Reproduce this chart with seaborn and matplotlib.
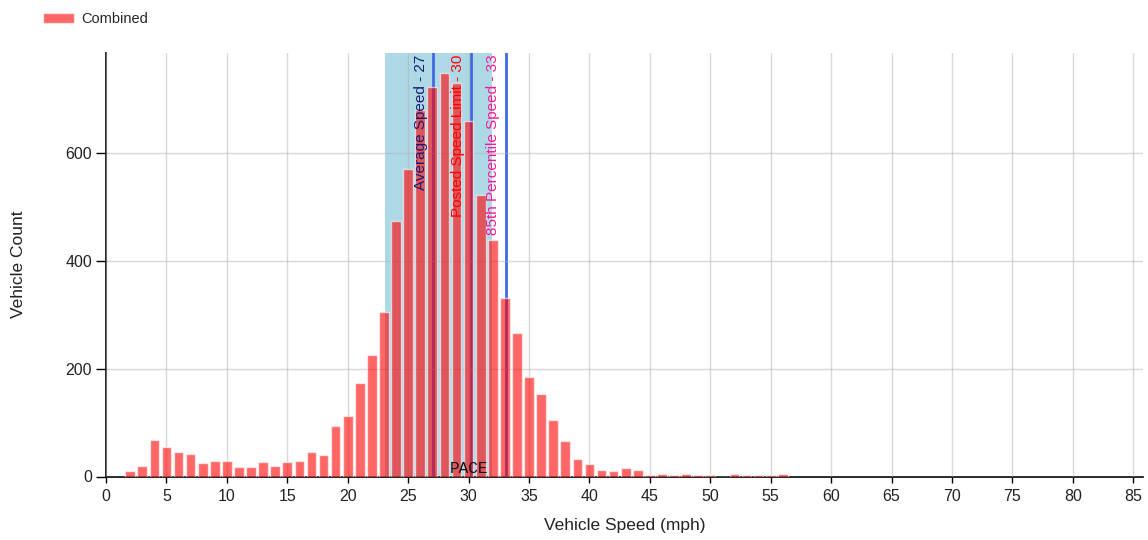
import pandas as pd
import numpy as np
import matplotlib
matplotlib.use("Agg")
import matplotlib.pyplot as plt
import seaborn as sns

# speed histogram (mph -> vehicle count)
speeds = list(range(2, 57))
counts = [10, 20, 67, 54, 46, 41, 25, 29, 29, 18,
          18, 26, 20, 26, 29, 46, 39, 93, 112, 174,
          225, 306, 475, 570, 680, 723, 749, 730, 660, 523,
          439, 332, 266, 184, 153, 105, 66, 33, 23, 12,
          10, 15, 12, 3, 5, 2, 5, 3, 3, 0,
          5, 3, 3, 3, 5]

# reference lines
line_values = [27.07, 30.18, 33.09]
line_labels = ["Average Speed - 27", "Posted Speed Limit - 30", "85th Percentile Speed - 33"]
line_text_colors = ["midnightblue", "red", "deeppink"]

# pace band
pace_lo, pace_hi = 23.1, 31.95

x_ticks = list(range(0, 90, 5))
y_ticks = [0, 200, 400, 600]

sns.set_style("white")
plt.rcParams["font.family"] = ["Liberation Sans", "DejaVu Sans"]

df = pd.DataFrame({"speed": speeds, "count": counts})

fig, ax = plt.subplots(figsize=(11.48, 5.40), dpi=100)
fig.subplots_adjust(left=106 / 1148, right=1143 / 1148, bottom=1 - 476.5 / 540, top=1 - 53 / 540)

ax.axvspan(pace_lo, pace_hi, color="lightblue", lw=0, zorder=1)
for v in line_values:
    ax.axvline(v, color="royalblue", lw=2, zorder=2)

sns.barplot(data=df, x="speed", y="count", native_scale=True, width=0.8,
            color="red", alpha=0.6, saturation=1, edgecolor="white",
            linewidth=1, errorbar=None, label="Combined", ax=ax, zorder=3)

for v, lab, c in zip(line_values, line_labels, line_text_colors):
    ax.annotate(lab, xy=(v, 1), xycoords=("data", "axes fraction"),
                xytext=(-4, -1), textcoords="offset points",
                rotation=90, ha="right", va="top", color=c, fontsize=11, zorder=5)

ax.text(30, 7, "PACE", ha="center", va="baseline", fontsize=11.5,
        family="Liberation Mono", color="#111111", zorder=5)

ax.set_xlim(0, 85.8)
ax.set_ylim(0, 786)
ax.set_xticks(x_ticks)
ax.set_xticklabels([str(t) for t in x_ticks])
ax.set_yticks(y_ticks)
ax.grid(True, color="#b0b0b0", alpha=0.5, lw=1, zorder=4)
ax.set_axisbelow(False)

for s in ["top", "right"]:
    ax.spines[s].set_visible(False)
for s in ["left", "bottom"]:
    ax.spines[s].set_color("black")
    ax.spines[s].set_linewidth(1.2)

ax.tick_params(axis="x", direction="out", length=4, width=1, color="black",
               labelsize=11.5, labelcolor="#222222", pad=5, bottom=True)
ax.tick_params(axis="y", direction="out", length=7, width=1, color="black",
               labelsize=11.5, labelcolor="#222222", pad=3, left=True)

ax.set_xlabel("Vehicle Speed (mph)", fontsize=12.5, color="#222222", labelpad=10)
ax.set_ylabel("Vehicle Count", fontsize=12.5, color="#222222", labelpad=28)

if ax.get_legend() is not None:
    ax.get_legend().remove()
handles, labels = ax.get_legend_handles_labels()
fig.legend(handles[:1], labels[:1], loc="upper left",
           bbox_to_anchor=(43 / 1148, 1 - 12 / 540), frameon=False,
           fontsize=10.5, handlelength=2.1, handleheight=0.75,
           handletextpad=0.5, borderpad=0, borderaxespad=0)

plt.savefig("out.png", dpi=100)
